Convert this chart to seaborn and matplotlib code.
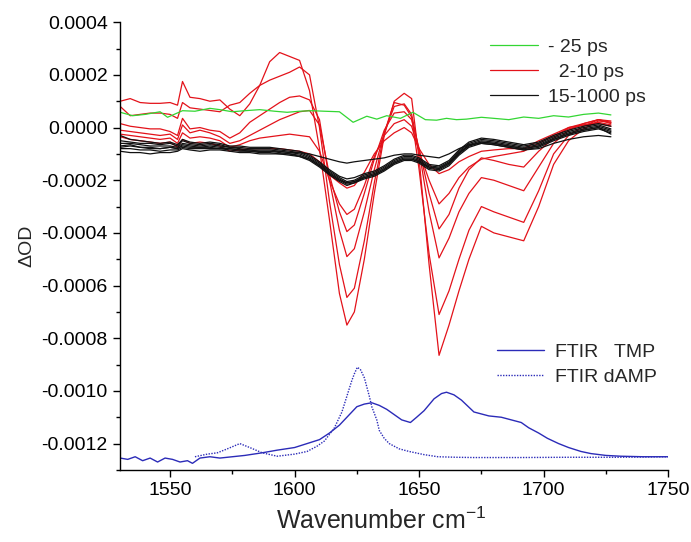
import numpy as np
import matplotlib
matplotlib.use("Agg")
import matplotlib.pyplot as plt
import seaborn as sns
from matplotlib.ticker import MultipleLocator, FuncFormatter

sns.set_theme(style="ticks")
plt.rcParams['font.family'] = ['Liberation Sans', 'DejaVu Sans']
plt.rcParams['mathtext.fontset'] = 'custom'
plt.rcParams['mathtext.rm'] = 'Liberation Sans'

# pump-probe spectra, values in units of 1e-4 OD
X_PP = [1530, 1534, 1538, 1542, 1546, 1550, 1553, 1555, 1558, 1562, 1566, 1570,
        1574, 1578, 1582, 1586, 1590, 1594, 1598, 1602, 1606, 1610, 1614, 1618,
        1621, 1624, 1628, 1632, 1636, 1640, 1644, 1647, 1650, 1654, 1658, 1662,
        1666, 1670, 1675, 1680, 1686, 1692, 1698, 1704, 1710, 1716, 1722, 1727]

# 2-10 ps (red)
R1 = [1.00, 1.10, 0.95, 0.92, 0.92, 0.95, 0.85, 1.75,
      1.15, 1.10, 1.00, 1.05, 0.70, 0.45, 0.90, 1.60,
      2.50, 2.85, 2.70, 2.55, 1.40, -0.80, -3.50, -6.30,
      -7.50, -7.00, -5.00, -2.50, -0.30, 1.00, 1.30, 1.10,
      -1.20, -5.20, -8.65, -7.50, -6.20, -5.00, -3.75, -4.00,
      -4.15, -4.30, -3.00, -1.40, -0.50, -0.05, 0.25, 0.20]
R2 = [0.80, 0.45, 0.50, 0.55, 0.55, 0.50, 0.35, 0.95,
      0.75, 0.70, 0.65, 0.60, 0.85, 0.95, 1.30, 1.60,
      1.80, 1.95, 2.10, 2.30, 2.00, 0.00, -2.80, -5.20,
      -6.45, -6.10, -4.30, -2.10, -0.20, 0.95, 0.85, 0.40,
      -1.60, -4.80, -7.10, -6.20, -5.00, -3.90, -3.00, -3.20,
      -3.40, -3.60, -2.40, -1.00, -0.30, 0.05, 0.30, 0.25]
R3 = [0.15, 0.05, 0.00, -0.05, -0.05, -0.15, -0.30, 0.35,
      -0.05, 0.00, -0.10, -0.15, -0.40, -0.20, 0.20, 0.45,
      0.70, 0.95, 1.15, 1.20, 1.05, 0.30, -2.00, -3.90,
      -4.90, -4.60, -3.20, -1.60, -0.20, 0.80, 0.90, 0.50,
      -0.90, -3.20, -4.95, -4.20, -3.20, -2.50, -1.90, -2.00,
      -2.20, -2.40, -1.50, -0.60, -0.10, 0.15, 0.30, 0.20]
R4 = [-0.10, -0.15, -0.20, -0.25, -0.30, -0.25, -0.45, 0.10,
      -0.20, -0.10, -0.20, -0.35, -0.60, -0.50, -0.30, -0.10,
      0.10, 0.30, 0.45, 0.60, 0.65, 0.10, -1.80, -3.20,
      -3.95, -3.70, -2.50, -1.20, -0.10, 0.55, 0.60, 0.30,
      -0.80, -2.50, -3.85, -3.30, -2.30, -1.60, -1.15, -1.25,
      -1.40, -1.50, -0.90, -0.40, 0.00, 0.15, 0.30, 0.15]
R5 = [-0.25, -0.30, -0.35, -0.40, -0.45, -0.40, -0.60, -0.20,
      -0.40, -0.35, -0.40, -0.50, -0.75, -0.65, -0.50, -0.40,
      -0.35, -0.30, -0.25, -0.30, -0.35, -0.90, -2.00, -2.90,
      -3.30, -3.10, -2.20, -1.10, -0.30, 0.15, 0.30, 0.05,
      -0.90, -2.00, -2.90, -2.50, -1.90, -1.50, -1.20, -1.10,
      -1.00, -0.90, -0.60, -0.30, -0.05, 0.10, 0.20, 0.10]
R6 = [-0.35, -0.45, -0.50, -0.55, -0.60, -0.55, -0.75, -0.45,
      -0.60, -0.55, -0.60, -0.70, -0.90, -0.85, -0.80, -0.80,
      -0.80, -0.80, -0.85, -0.90, -1.00, -1.30, -1.80, -2.10,
      -2.30, -2.20, -1.70, -1.00, -0.50, -0.20, 0.00, -0.20,
      -0.80, -1.40, -1.75, -1.60, -1.30, -1.10, -0.90, -0.85,
      -0.80, -0.80, -0.50, -0.25, 0.00, 0.10, 0.15, 0.05]

# 15-1000 ps (black)
B1 = [-0.30, -0.45, -0.50, -0.55, -0.60, -0.55, -0.65, -0.45,
      -0.55, -0.60, -0.55, -0.60, -0.70, -0.70, -0.75, -0.75,
      -0.75, -0.80, -0.85, -0.90, -1.05, -1.30, -1.60, -1.85,
      -1.95, -1.90, -1.75, -1.65, -1.45, -1.20, -1.05, -1.05,
      -1.15, -1.40, -1.45, -1.25, -0.85, -0.55, -0.40, -0.45,
      -0.55, -0.65, -0.55, -0.30, -0.10, 0.05, 0.15, 0.05]
B2 = [-0.50, -0.55, -0.60, -0.60, -0.65, -0.60, -0.70, -0.50,
      -0.60, -0.65, -0.60, -0.65, -0.75, -0.75, -0.80, -0.80,
      -0.80, -0.85, -0.90, -0.95, -1.10, -1.35, -1.65, -1.90,
      -2.05, -2.00, -1.80, -1.70, -1.50, -1.25, -1.10, -1.10,
      -1.20, -1.45, -1.50, -1.30, -0.90, -0.60, -0.45, -0.50,
      -0.60, -0.70, -0.60, -0.35, -0.15, 0.00, 0.10, -0.05]
B3 = [-0.60, -0.60, -0.65, -0.70, -0.70, -0.70, -0.75, -0.60,
      -0.65, -0.70, -0.65, -0.70, -0.75, -0.80, -0.85, -0.85,
      -0.85, -0.90, -0.95, -1.00, -1.15, -1.40, -1.70, -1.95,
      -2.10, -2.05, -1.85, -1.75, -1.55, -1.30, -1.15, -1.15,
      -1.25, -1.50, -1.55, -1.35, -0.95, -0.65, -0.50, -0.55,
      -0.65, -0.75, -0.65, -0.40, -0.20, -0.05, 0.05, -0.10]
B4 = [-0.70, -0.65, -0.75, -0.75, -0.80, -0.75, -0.80, -0.65,
      -0.70, -0.75, -0.70, -0.75, -0.80, -0.85, -0.90, -0.90,
      -0.90, -0.95, -1.00, -1.05, -1.20, -1.45, -1.75, -2.00,
      -2.15, -2.10, -1.90, -1.80, -1.60, -1.35, -1.20, -1.20,
      -1.30, -1.55, -1.60, -1.40, -1.00, -0.70, -0.55, -0.60,
      -0.70, -0.80, -0.70, -0.45, -0.25, -0.10, 0.00, -0.15]
B5 = [-0.80, -0.80, -0.85, -0.85, -0.90, -0.85, -0.85, -0.75,
      -0.80, -0.80, -0.80, -0.80, -0.85, -0.90, -0.90, -0.95,
      -0.95, -1.00, -1.00, -1.10, -1.25, -1.50, -1.80, -2.05,
      -2.20, -2.10, -1.95, -1.85, -1.65, -1.40, -1.25, -1.25,
      -1.35, -1.60, -1.65, -1.45, -1.05, -0.75, -0.60, -0.65,
      -0.75, -0.85, -0.75, -0.50, -0.30, -0.15, -0.05, -0.20]
B6 = [-0.90, -0.95, -0.95, -1.00, -0.95, -0.95, -0.90, -0.80,
      -0.85, -0.90, -0.85, -0.85, -0.90, -0.95, -0.95, -1.00,
      -1.00, -1.00, -1.05, -1.10, -1.20, -1.45, -1.75, -2.00,
      -2.10, -2.05, -1.90, -1.80, -1.60, -1.35, -1.20, -1.20,
      -1.30, -1.50, -1.55, -1.35, -0.95, -0.70, -0.55, -0.60,
      -0.70, -0.80, -0.70, -0.45, -0.25, -0.10, 0.00, -0.25]
B7 = [-0.75, -0.70, -0.75, -0.80, -0.80, -0.75, -0.80, -0.70,
      -0.75, -0.75, -0.75, -0.80, -0.80, -0.85, -0.85, -0.90,
      -0.90, -0.90, -0.95, -0.95, -1.00, -1.10, -1.20, -1.30,
      -1.35, -1.30, -1.25, -1.20, -1.15, -1.05, -1.00, -1.00,
      -1.05, -1.10, -1.15, -1.00, -0.80, -0.65, -0.60, -0.65,
      -0.75, -0.85, -0.80, -0.60, -0.45, -0.35, -0.30, -0.35]

# -25 ps (green)
G_X = [1530, 1535, 1540, 1546, 1549, 1555, 1560, 1566, 1570, 1575, 1580, 1586,
       1592, 1597, 1602, 1607, 1612, 1618, 1623.5, 1629, 1633, 1637, 1642.5,
       1647.5, 1652.5, 1657, 1661, 1665, 1669, 1675, 1680, 1686, 1692, 1698,
       1704, 1710, 1716, 1722, 1727]
G_Y = [0.58, 0.45, 0.50, 0.60, 0.39, 0.64, 0.62, 0.73, 0.68, 0.60, 0.64, 0.68,
       0.62, 0.58, 0.62, 0.64, 0.62, 0.60, 0.20, 0.43, 0.32, 0.45, 0.35,
       0.58, 0.30, 0.28, 0.35, 0.30, 0.32, 0.39, 0.35, 0.30, 0.40, 0.35,
       0.45, 0.40, 0.50, 0.55, 0.48]

# FTIR spectra (scaled, offset), units of 1e-4
TMP_X = [1530, 1533, 1536, 1539, 1542, 1545, 1548, 1551, 1554, 1557, 1559, 1562,
         1566, 1570, 1575, 1580, 1587, 1593, 1600, 1605, 1610, 1614, 1618, 1621,
         1625, 1628, 1631, 1634, 1637, 1640, 1643, 1646.5, 1649, 1652, 1656, 1659,
         1661, 1664, 1667, 1672, 1678, 1683, 1687, 1691, 1694, 1698, 1701.5, 1706,
         1710, 1715, 1719, 1725, 1731, 1740, 1750]
TMP_Y = [-12.55, -12.6, -12.5, -12.65, -12.55, -12.7, -12.55, -12.6, -12.7, -12.65,
         -12.75, -12.55, -12.5, -12.55, -12.5, -12.45, -12.35, -12.25, -12.15, -12.0,
         -11.85, -11.6, -11.3, -11.0, -10.6, -10.5, -10.45, -10.55, -10.7, -10.9,
         -11.1, -11.2, -11.0, -10.75, -10.3, -10.1, -10.05, -10.15, -10.35, -10.8,
         -10.95, -11.0, -11.1, -11.2, -11.4, -11.6, -11.8, -12.0, -12.15, -12.3,
         -12.38, -12.45, -12.48, -12.5, -12.5]
DAMP_X = [1560, 1565, 1569, 1573, 1578, 1582, 1587, 1593, 1600, 1605, 1609, 1612,
          1616, 1619, 1621, 1623, 1624, 1625.2, 1626.5, 1628, 1630, 1631, 1633, 1634,
          1636, 1638, 1642, 1646, 1652, 1657.5, 1665, 1672, 1690, 1710, 1730, 1750]
DAMP_Y = [-12.5, -12.4, -12.35, -12.2, -12.0, -12.15, -12.35, -12.48, -12.4, -12.3,
          -12.1, -11.9, -11.4, -10.8, -10.2, -9.6, -9.35, -9.1, -9.2, -9.5,
          -10.2, -10.6, -11.1, -11.5, -11.8, -12.0, -12.2, -12.3, -12.42, -12.5,
          -12.52, -12.53, -12.53, -12.52, -12.52, -12.5]

RED = '#e3121a'
GREEN = '#33d633'
BLACK = '#111111'
BLUE = '#2b2bb8'
LW = 0.9
S = 1e-4

fig = plt.figure(figsize=(6.91, 5.42), dpi=100)
ax = fig.add_axes([0.174, 0.133, 0.793, 0.826])

for r in [R1, R2, R3, R4, R5, R6]:
    sns.lineplot(x=X_PP, y=np.array(r) * S, color=RED, lw=LW, ax=ax, legend=False)
for b in [B1, B2, B3, B4, B5, B6, B7]:
    sns.lineplot(x=X_PP, y=np.array(b) * S, color=BLACK, lw=LW, ax=ax, legend=False)
sns.lineplot(x=G_X, y=np.array(G_Y) * S, color=GREEN, lw=LW, ax=ax, legend=False)
sns.lineplot(x=TMP_X, y=np.array(TMP_Y) * S, color=BLUE, lw=1.0, ax=ax, legend=False)
sns.lineplot(x=DAMP_X, y=np.array(DAMP_Y) * S, color=BLUE, lw=1.0,
             linestyle=(0, (1, 1)), ax=ax, legend=False)

lines = ax.get_lines()
red_line, black_line = lines[0], lines[6]
green_line, tmp_line, damp_line = lines[13], lines[14], lines[15]

leg1 = ax.legend([green_line, red_line, black_line],
                 ['- 25 ps', '  2-10 ps', '15-1000 ps'],
                 loc='upper left', bbox_to_anchor=(0.709, 0.930),
                 bbox_transform=fig.transFigure, frameon=False, fontsize=14,
                 handlelength=2.45, handletextpad=0.55, labelspacing=0.38,
                 borderpad=0, borderaxespad=0)
ax.add_artist(leg1)
ax.legend([tmp_line, damp_line], ['FTIR   TMP', 'FTIR dAMP'],
          loc='upper left', bbox_to_anchor=(0.719, 0.366),
          bbox_transform=fig.transFigure, frameon=False, fontsize=14,
          handlelength=2.45, handletextpad=0.55, labelspacing=0.38,
          borderpad=0, borderaxespad=0)

ax.set_xlim(1530, 1750)
ax.set_ylim(-0.0013, 0.0004)
ax.xaxis.set_major_locator(MultipleLocator(50))
ax.xaxis.set_minor_locator(MultipleLocator(25))
ax.yaxis.set_major_locator(MultipleLocator(0.0002))
ax.yaxis.set_minor_locator(MultipleLocator(0.0001))
ax.yaxis.set_major_formatter(FuncFormatter(lambda v, p: f'{round(v, 6) + 0:.4f}'))
ax.tick_params(which='major', direction='out', length=5, width=1, labelsize=14,
               color='black', labelcolor='black', pad=4)
ax.tick_params(which='minor', direction='out', length=3, width=1, color='black')
sns.despine(ax=ax)
for sp in ['left', 'bottom']:
    ax.spines[sp].set_color('black')
    ax.spines[sp].set_linewidth(1.0)

ax.set_xlabel('Wavenumber cm$^{-1}$', fontsize=18)
ax.xaxis.set_label_coords(0.476, -0.085)
ax.set_ylabel('ΔOD', fontsize=14, labelpad=4)

fig.savefig('out.png', dpi=100)
